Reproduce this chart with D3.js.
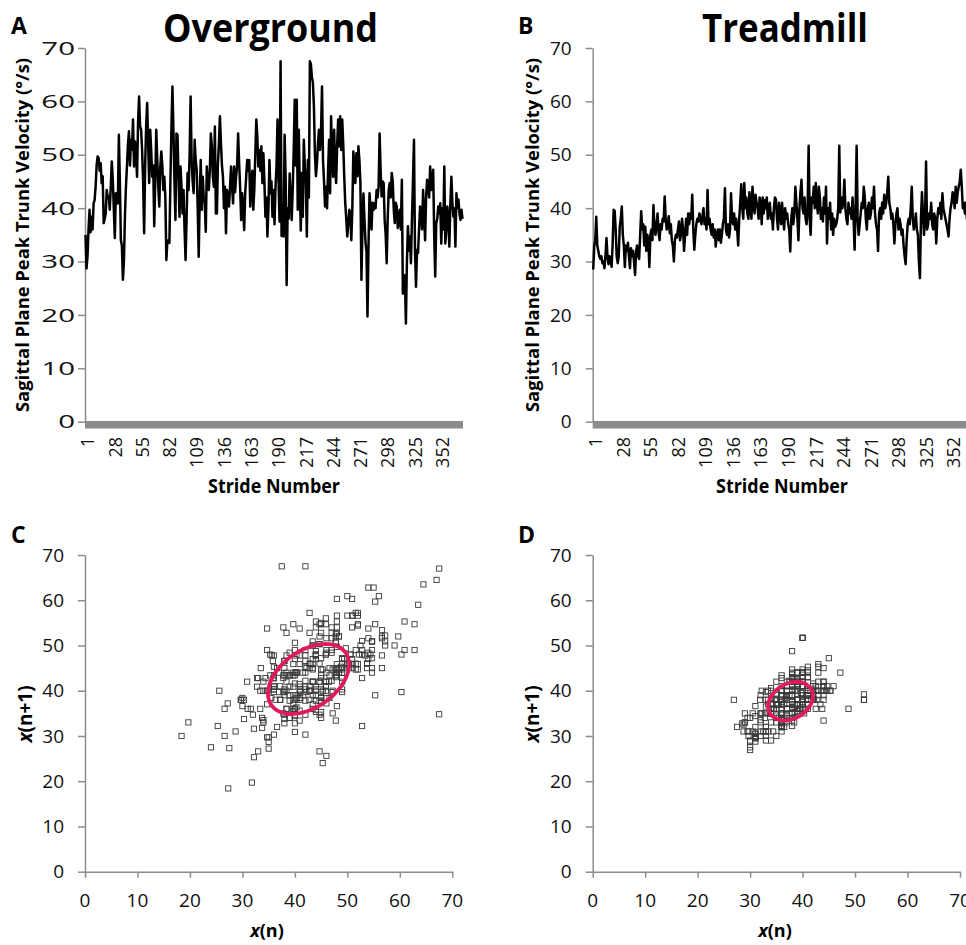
<!DOCTYPE html>
<html><head><meta charset="utf-8">
<script src="https://cdn.jsdelivr.net/npm/d3@7"></script>
<style>
body{margin:0;background:#fff}
svg{display:block}
text{font-family:"Open Sans",sans-serif}
</style>
</head><body>
<svg id="chart" width="966" height="945"></svg>
<script>
// ---- data ----
const overground = [
35,28.7,31,36,39.7,35.5,38.4,36,40.9,41.5,
44,48,49.7,49.4,47,48.4,44.7,46,37.2,38,
39,43.4,42,42.2,39.7,44,48.75,45.3,40,34.4,
42.8,41,40.9,53.75,45,34,33,26.6,30,38.4,
44,47.8,52,54.4,48,52.8,51,56.6,47.8,52.5,
50,45.9,56,60.9,55.3,54.7,50.9,45,35.3,48,
55.3,59.7,52,44.7,54.7,50.9,45.9,48,36.6,45,
54.7,49,44,40.3,47.8,50.6,48,43.4,45.9,42,
30.3,33.75,34,33.5,45,55,62.8,54.7,45,37.8,
54,53.75,46,38.4,47.8,44,39,43.4,36,30.3,
38,46.6,43.4,50,60.9,49,45,42.8,52.8,49,
47.2,40,30.9,42,49,39.7,45.9,42,40.9,35.6,
47.8,45,43.4,47,54,51.6,46,44,55.3,39,
39,48.4,52,57.2,52.2,48,45.9,40,44,35.3,
43.4,42,40.3,44,47.8,44,40.9,47.8,43,45.9,
48,54,48.4,44,37.8,42.8,40,35.9,42.8,46,
49,47,49,40.3,44,47,39.7,43.4,50,56.6,
53.4,47.8,50.9,47,51.6,44.7,50.3,45,38.4,42,
34.7,40,49,42.8,45,38.4,43.4,37,44,
48,56.6,45,37.5,67.5,34.8,40,34.7,53.75,46,
25.6,40,38,46.5,42,37.8,43.4,50.9,60.3,48,
60.3,39.7,54.7,44,35.8,46.6,38.4,52.8,48,44.7,
34.7,49,42,67.5,67,64.5,63.5,59,50,46,
48.4,52,54.7,50.9,54,62.8,49,45,40.3,44,
40,47,52.8,42.8,57.2,50,45.9,54.7,47.2,44.7,
52,56.6,51.6,57.2,50.9,56.6,52,45.9,40.9,38,
34.7,37,39.7,39,34,40,50.6,48,44.7,50.3,
46,51.6,49,44.7,26.6,36,42.75,38,33.75,31.8,
19.7,33,42.8,40,36,41,39.7,40.9,40,43.4,
42,44,54,47,42.2,45,44.7,37.8,35,29.7,
38,43.4,44.7,42,46.6,45,39.7,37.2,41,40.3,
36.3,38,39.7,36,45.3,24,27.5,27.3,18.4,30,
36.6,32,34.7,29.7,38,45,52.8,32.2,25.3,32.2,
31.6,36,40.3,38.4,36,43.4,39,34,42,45.3,
44.7,42,47.8,43.4,45,47.2,35,27.2,37.2,38,
40.3,39,40.9,33.4,40,36,47.8,33.4,36,40.3,
38,32.8,40.9,45.9,41,38.4,40,32.8,42.8,40,
41.6,39,37.8,39.7,38
];
const treadmill = [
28.5,32.8,34,38.4,33,32,31,30.5,31,29.7,
30,28.75,31,34.4,31,29.5,31,30,29,33,
39.7,39.5,36,31,29.7,31,36.6,38,40.3,35,
33,29,33,32,33.5,31,28.75,32.5,31,32,
30,27.5,32,33,31,30.5,35,39.4,36,37,
33,36.5,32,35,34,29,35,36,34,40.6,
36,35,37,39,35.5,34,37,36,38,37.5,
42.2,38,36,37,38.5,35.3,37,34,33,30,
34,35,34.5,36,37.5,34,35,38,36,32,
35,38,35,39,37,39,38,42.5,36,32.2,
35,37,38,37.5,39,38,37,38.5,40,37,
38,36,43.4,37,38,36,35,37,34.5,36,
32.8,35,36,34,36,33.5,35,37,38,43.75,
36,35,37,34.5,36,42.8,38,37,39,36,
38,36,33,38,41,44.5,40,38,44.7,40,
42,39,38,43,40,38,44,41,39,42.5,
41,40,38,42,41,37,42,39,41.5,40,
42,38,40,41,38,39,36,40,42,41.6,
38,36,41,39.5,37,41,38,36,40,38,
39,37,36,31.9,38,40,37,39,44,41,
38,34,40,43,45.3,40,39,42,38,37,
40,51.7,38,35,42,41,44,40,44.7,41,
39,44,42,38,40,37.5,42,39,44,33.4,
40,38,41,36,39,35,38,36.5,37,38,
40,51.7,39.2,42,40,41,45.3,40,38,37,
41,39,40,38,42,38,32.2,40,51.7,38,
35,37,39,41,40,44,42,38,36,40,
41,38,39,42,40,44,39,37,36,32,
39,40,38,41,39,42.5,40,41,43,45.9,
41,40,38,39,37,33.4,37,39,40,36,
38,37,35,36,33,31,29.5,34,37,38,
37,40,44,38,36,37,39,36,35,30,
26.9,38,43,39,35,38,48.75,36,37,39,
38,41,37,36,39,38,33.4,38,40,39,
41,38,42.8,40,39,38,37,36,34.7,38,
40,41,43,42,40,44,41,43,44,45,
47.2,44,40,41,39,41,38,39
];
const strideCount = 374;
const yTicks = [0,10,20,30,40,50,60,70];
const strideTicks = [1,28,55,82,109,136,163,190,217,244,271,298,325,352];
const scatterTicks = [0,10,20,30,40,50,60,70];
const panelLetters = ["A","B","C","D"];
const panelTitles = ["Overground","Treadmill"];
const ellipseCenter = [[42.6,42.6],[37.7,37.7]];
const ellipseSD1 = [5.9,3.65];
const ellipseSD2 = [9.2,4.8];

// ---- drawing ----
const svg = d3.select("#chart");
const AXIS = "#8c8c8c", INK = "#111", PINK = "#e2195c";

function letter(t, x, y){
  svg.append("text").attr("x",x).attr("y",y).attr("font-size",23).attr("font-weight",700)
    .attr("fill","#000").text(t);
}

function linePanel(o){
  const g = svg.append("g");
  const x = d3.scaleLinear().domain([0.5, strideCount+0.5]).range([o.left, o.left+strideCount*o.step]);
  const y = d3.scaleLinear().domain([0,70]).range([421.7,48]);

  const ya = g.append("g").attr("transform",`translate(${o.left},0)`)
    .call(d3.axisLeft(y).tickValues(yTicks).tickSize(7).tickSizeOuter(0).tickFormat(""));
  ya.select(".domain").attr("stroke",AXIS).attr("stroke-width",1.5);
  ya.selectAll(".tick line").attr("stroke",AXIS).attr("stroke-width",1.5);

  g.selectAll(".ylab").data(yTicks).join("text").attr("class","ylab")
    .attr("transform",d=>`translate(${o.labelRight},${y(d)}) scale(${o.labelStretch},1)`)
    .attr("text-anchor","end").attr("dy","0.35em").attr("font-size",19).attr("fill",INK).text(d=>d);

  g.append("rect").attr("x",o.left).attr("y",421).attr("width",x.range()[1]-o.left)
    .attr("height",7.5).attr("fill",AXIS);

  g.append("path").datum(o.data)
    .attr("d", d3.line().x((d,i)=>x(i+1)).y(d=>y(d)))
    .attr("fill","none").attr("stroke","#000").attr("stroke-width",2.5).attr("stroke-linejoin","round");

  g.selectAll(".xlab").data(strideTicks).join("text").attr("class","xlab")
    .attr("transform",d=>`translate(${x(d)+2.5},437) rotate(-90)`)
    .attr("text-anchor","end").attr("dy","0.35em").attr("font-size",18).attr("fill",INK).text(d=>d);

  g.append("text").attr("transform",`translate(${o.yTitleX},235) rotate(-90)`)
    .attr("text-anchor","middle").attr("dy","0.35em").attr("font-size",18).attr("font-weight",700)
    .attr("textLength",354).attr("lengthAdjust","spacingAndGlyphs").attr("fill","#000")
    .text("Sagittal Plane Peak Trunk Velocity (°/s)");

  g.append("text").attr("x",o.xTitleX).attr("y",493).attr("text-anchor","middle")
    .attr("font-size",19).attr("font-weight",700).attr("textLength",132).attr("lengthAdjust","spacingAndGlyphs")
    .attr("fill","#000").text("Stride Number");

  g.append("text").attr("x",o.titleX).attr("y",42).attr("text-anchor","middle")
    .attr("font-size",39).attr("font-weight",700).attr("textLength",o.titleW).attr("lengthAdjust","spacingAndGlyphs")
    .attr("fill","#000").text(o.title);
}

function scatterPanel(o){
  const g = svg.append("g");
  const x = d3.scaleLinear().domain([0,70]).range([o.left,o.right]);
  const y = d3.scaleLinear().domain([0,70]).range([871.7,555]);

  const xa = g.append("g").attr("transform","translate(0,871.7)")
    .call(d3.axisBottom(x).tickValues(scatterTicks).tickSize(6).tickSizeOuter(0).tickFormat(""));
  const ya = g.append("g").attr("transform",`translate(${o.left},0)`)
    .call(d3.axisLeft(y).tickValues(scatterTicks).tickSize(7).tickSizeOuter(0).tickFormat(""));
  [xa,ya].forEach(a=>{
    a.select(".domain").attr("stroke",AXIS).attr("stroke-width",1.5);
    a.selectAll(".tick line").attr("stroke",AXIS).attr("stroke-width",1.5);
  });

  g.selectAll(".ylab").data(scatterTicks).join("text").attr("class","ylab")
    .attr("x",o.left-21).attr("y",d=>y(d)).attr("dy","0.35em").attr("text-anchor","end")
    .attr("font-size",19).attr("fill",INK).text(d=>d);
  g.selectAll(".xlab").data(scatterTicks).join("text").attr("class","xlab")
    .attr("x",d=>x(d)).attr("y",907).attr("text-anchor","middle")
    .attr("font-size",19).attr("fill",INK).text(d=>d);

  const pairs = d3.pairs(o.data);
  g.selectAll(".pt").data(pairs).join("rect").attr("class","pt")
    .attr("x",d=>x(d[0])-2.6).attr("y",d=>y(d[1])-2.6).attr("width",5.2).attr("height",5.2)
    .attr("fill","none").attr("stroke","#3a3a3a").attr("stroke-width",0.9);

  const [cx,cy] = ellipseCenter[o.idx], a = ellipseSD2[o.idx], b = ellipseSD1[o.idx];
  const ring = d3.range(0,361,3).map(t=>{
    const r = t*Math.PI/180;
    return [cx+(a*Math.cos(r)-b*Math.sin(r))/Math.SQRT2, cy+(a*Math.cos(r)+b*Math.sin(r))/Math.SQRT2];
  });
  g.append("path").datum(ring).attr("d",d3.line().x(d=>x(d[0])).y(d=>y(d[1])))
    .attr("fill","none").attr("stroke",PINK).attr("stroke-width",3.8);

  const xl = g.append("text").attr("x",o.xTitleX).attr("y",937).attr("text-anchor","middle")
    .attr("font-size",18).attr("font-weight",700).attr("fill","#000");
  xl.append("tspan").attr("font-style","italic").text("x");
  xl.append("tspan").text("(n)");

  const yl = g.append("text").attr("transform",`translate(${o.yTitleX},714) rotate(-90)`)
    .attr("text-anchor","middle").attr("dy","0.35em").attr("font-size",19).attr("font-weight",700).attr("fill","#000");
  yl.append("tspan").attr("font-style","italic").text("x");
  yl.append("tspan").text("(n+1)");
}

linePanel({data:overground,left:85,step:1.0107,labelRight:75,labelStretch:1.55,
  yTitleX:23,xTitleX:274,titleX:270.5,titleW:215,title:panelTitles[0]});
linePanel({data:treadmill,left:592.7,step:1.021,labelRight:571.7,labelStretch:1,
  yTitleX:532.5,xTitleX:782,titleX:785,titleW:166,title:panelTitles[1]});
scatterPanel({data:overground,idx:0,left:85,right:452.3,xTitleX:267,yTitleX:25});
scatterPanel({data:treadmill,idx:1,left:592.7,right:960,xTitleX:775,yTitleX:532.5});

letter(panelLetters[0],11,34);
letter(panelLetters[1],518,34);
letter(panelLetters[2],11,543);
letter(panelLetters[3],518,543);
</script>
</body></html>
